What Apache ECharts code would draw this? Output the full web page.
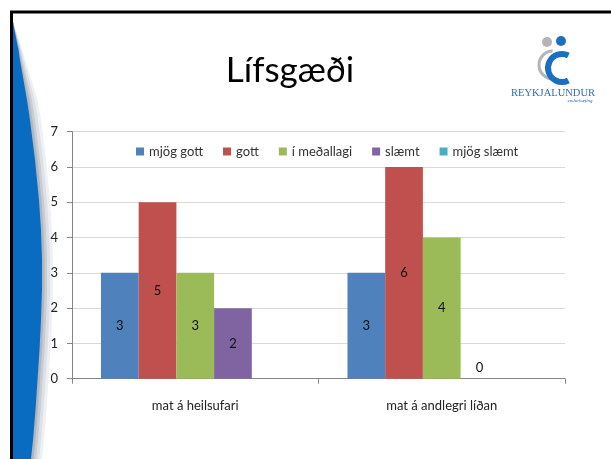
<!DOCTYPE html>
<html>
<head>
<meta charset="utf-8">
<script src="https://cdn.jsdelivr.net/npm/echarts@6/dist/echarts.min.js"></script>
<style>html,body{margin:0;padding:0;background:#fff}#c{width:611px;height:459px}</style>
</head>
<body>
<div id="c"></div>
<script>
const titleText = 'Lífsgæði';
const categories = ['mat á heilsufari', 'mat á andlegri líðan'];
const seriesNames = ['mjög gott', 'gott', 'í meðallagi', 'slæmt', 'mjög slæmt'];
const mjogGott = [3, 3];
const gott = [5, 6];
const medallagi = [3, 4];
const slaemt = [2, 0];
const mjogSlaemt = [null, null];
const yTicks = [0, 1, 2, 3, 4, 5, 6, 7];

const colors = ['#4f81bd', '#c0504d', '#9bbb59', '#8064a2', '#4bacc6'];
const values = [mjogGott, gott, medallagi, slaemt, mjogSlaemt];
const FONT = 'Lato, "Open Sans", sans-serif';

const series = values.map((arr, i) => ({
  name: seriesNames[i],
  type: 'bar',
  barGap: '0%',
  barCategoryGap: '23.5%',
  itemStyle: { color: colors[i] },
  label: { show: true, position: 'inside', color: '#111', fontSize: 13, fontFamily: FONT },
  data: arr.map(v => v === null ? '-' : (v === 0 ? { value: v, label: { position: 'top', distance: 4 } } : v))
}));

// left decorative swoosh (slide background)
const edge = [[13,22],[14.5,30],[16.5,40],[18.5,50],[20,60],[23.5,80],[27,100],[30,120],[32.5,140],[35,160],[37,180],[39,200],[41,230],[42,260],[42,290],[41,320],[39.5,350],[37.5,380],[35.5,410],[33,440],[31,459]];
const blueShape = edge.concat([[13,459]]);
function shifted(d) {
  return edge.map(p => [p[0] + d * Math.min(1, (p[1] - 22) / 80), p[1]]).concat([[13,459]]);
}
const shadowLayers = [[11, '#eef0f3'], [8, '#dde0e5'], [5, '#c8ccd3'], [2.5, '#b0b6c0']];

const chart = echarts.init(document.getElementById('c'), null, { renderer: 'canvas' });
const graphics = shadowLayers.map((l, i) => ({
  type: 'polygon', silent: true, z: 0, shape: { points: shifted(l[0]) }, style: { fill: l[1] }
}));
graphics.push(
  { type: 'polygon', silent: true, z: 1, shape: { points: blueShape }, style: { fill: '#0a6cc0' } },
  { type: 'line', silent: true, z: 2, shape: { x1: 10, y1: 12, x2: 611, y2: 12 }, style: { stroke: '#000', lineWidth: 3 } },
  { type: 'line', silent: true, z: 2, shape: { x1: 11.5, y1: 12, x2: 11.5, y2: 459 }, style: { stroke: '#000', lineWidth: 3 } },
  { type: 'text', silent: true, x: 290, y: 71, style: { text: titleText, fontSize: 35, fontFamily: FONT, fill: '#000', textAlign: 'center', textVerticalAlign: 'middle' } },
  { type: 'arc', silent: true, shape: { cx: 553, cy: 65, r: 14, startAngle: -1.6, endAngle: 1.3, clockwise: false }, style: { stroke: '#b5b5b8', lineWidth: 3, fill: null } },
  { type: 'arc', silent: true, shape: { cx: 562, cy: 68, r: 14, startAngle: -1.1, endAngle: 1.1, clockwise: false }, style: { stroke: '#1a6fc0', lineWidth: 6, fill: null } },
  { type: 'circle', silent: true, shape: { cx: 547, cy: 42, r: 5 }, style: { fill: '#b5b5b8' } },
  { type: 'circle', silent: true, shape: { cx: 561, cy: 41, r: 5 }, style: { fill: '#1a6fc0' } },
  { type: 'text', silent: true, x: 553, y: 93, style: { text: 'REYKJALUNDUR', fontSize: 10.5, fontFamily: '"Liberation Serif", serif', fill: '#2e6db4', textAlign: 'center', textVerticalAlign: 'middle' } },
  { type: 'text', silent: true, x: 580, y: 101, style: { text: 'endurhæfing', fontSize: 5, fontStyle: 'italic', fontFamily: '"Liberation Serif", serif', fill: '#2e6db4', textAlign: 'center', textVerticalAlign: 'middle' } }
);

chart.setOption({
  animation: false,
  backgroundColor: '#fff',
  color: colors,
  grid: { left: 72, right: 46, top: 131.7, bottom: 80.3, containLabel: false },
  legend: {
    data: seriesNames,
    left: 131, top: 140,
    icon: 'rect', itemWidth: 8, itemHeight: 8, itemGap: 20,
    textStyle: { fontSize: 13, color: '#333', fontFamily: FONT }
  },
  xAxis: {
    type: 'category',
    data: categories,
    axisLine: { lineStyle: { color: '#868686' } },
    axisTick: { show: true, length: 5, lineStyle: { color: '#868686' } },
    axisLabel: { margin: 21, fontSize: 13, color: '#222', fontFamily: FONT }
  },
  yAxis: {
    type: 'value', min: yTicks[0], max: yTicks[yTicks.length - 1], interval: 1,
    axisLine: { show: true, lineStyle: { color: '#868686' } },
    axisTick: { show: true, length: 5, lineStyle: { color: '#868686' } },
    axisLabel: { margin: 14, fontSize: 13, color: '#222', fontFamily: FONT },
    splitLine: { lineStyle: { color: '#d9d9d9' } }
  },
  graphic: graphics,
  series: series
});
</script>
</body>
</html>
